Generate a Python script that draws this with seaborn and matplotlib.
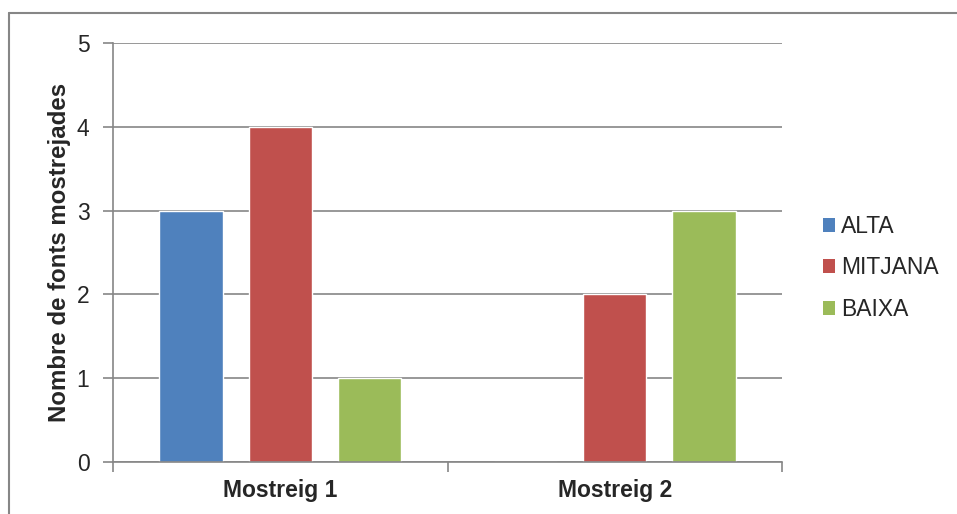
import matplotlib
matplotlib.use("Agg")
import matplotlib.pyplot as plt
from matplotlib.lines import Line2D
from matplotlib.patches import Patch
import seaborn as sns
import pandas as pd

categories = ["Mostreig 1", "Mostreig 2"]
series_names = ["ALTA", "MITJANA", "BAIXA"]
alta = [3, 0]
mitjana = [4, 2]
baixa = [1, 3]
colors = ["#4F81BD", "#C0504D", "#9BBB59"]
y_ticks = [0, 1, 2, 3, 4, 5]

rows = []
for name, vals in zip(series_names, [alta, mitjana, baixa]):
    for cat, v in zip(categories, vals):
        rows.append({"Mostreig": cat, "Nivell": name, "Valor": v})
df = pd.DataFrame(rows)

sns.set_theme(style="white")
plt.rcParams["font.family"] = ["Liberation Sans", "DejaVu Sans"]

grid_col = "#868686"

fig = plt.figure(figsize=(9.57, 5.14), dpi=100)
ax = fig.add_axes([113 / 957, 1 - 462 / 514, 669 / 957, 419 / 514])

sns.barplot(data=df, x="Mostreig", y="Valor", hue="Nivell",
            hue_order=series_names, palette=colors, width=0.8, gap=0.29,
            saturation=1, errorbar=None, ax=ax, legend=False)

ax.set_xlim(-0.5, 1.5)
ax.set_ylim(0, 5)
ax.set_yticks(y_ticks)
ax.set_yticklabels([str(t) for t in y_ticks], fontsize=16.5)
ax.yaxis.grid(True, color=grid_col, linewidth=1.2)
ax.set_axisbelow(True)

# category boundary ticks on the x axis
ax.set_xticks([0, 1])
ax.set_xticklabels(categories, fontsize=16.5, fontweight="bold")
ax.tick_params(axis="x", which="major", length=0, pad=12)
ax.set_xticks([-0.5, 0.5, 1.5], minor=True)
ax.tick_params(axis="x", which="minor", length=7, width=1.2, color=grid_col,
               direction="out", bottom=True)
ax.tick_params(axis="y", length=7, width=1.2, color=grid_col,
               direction="out", left=True, pad=10)

for side in ["top", "right"]:
    ax.spines[side].set_visible(False)
for side in ["left", "bottom"]:
    ax.spines[side].set_color(grid_col)
    ax.spines[side].set_linewidth(1.2)

ax.set_xlabel("")
ax.set_ylabel("Nombre de fonts mostrejades", fontsize=17.3, fontweight="bold",
              labelpad=4)

handles = [Patch(facecolor=c, edgecolor="none") for c in colors]
fig.legend(handles, series_names, loc="center left",
           bbox_to_anchor=(802 / 957, 1 - 268 / 514), frameon=False,
           fontsize=16.5, handlelength=0.55, handleheight=0.55,
           handletextpad=0.25, labelspacing=0.8)

# outer chart frame
fig.add_artist(Line2D([9 / 957, 1.0], [1 - 13 / 514, 1 - 13 / 514],
                      transform=fig.transFigure, color=grid_col, linewidth=1.5))
fig.add_artist(Line2D([9 / 957, 9 / 957], [1 - 13 / 514, 0.0],
                      transform=fig.transFigure, color=grid_col, linewidth=1.5))

fig.savefig("out.png", dpi=100, facecolor="white")
